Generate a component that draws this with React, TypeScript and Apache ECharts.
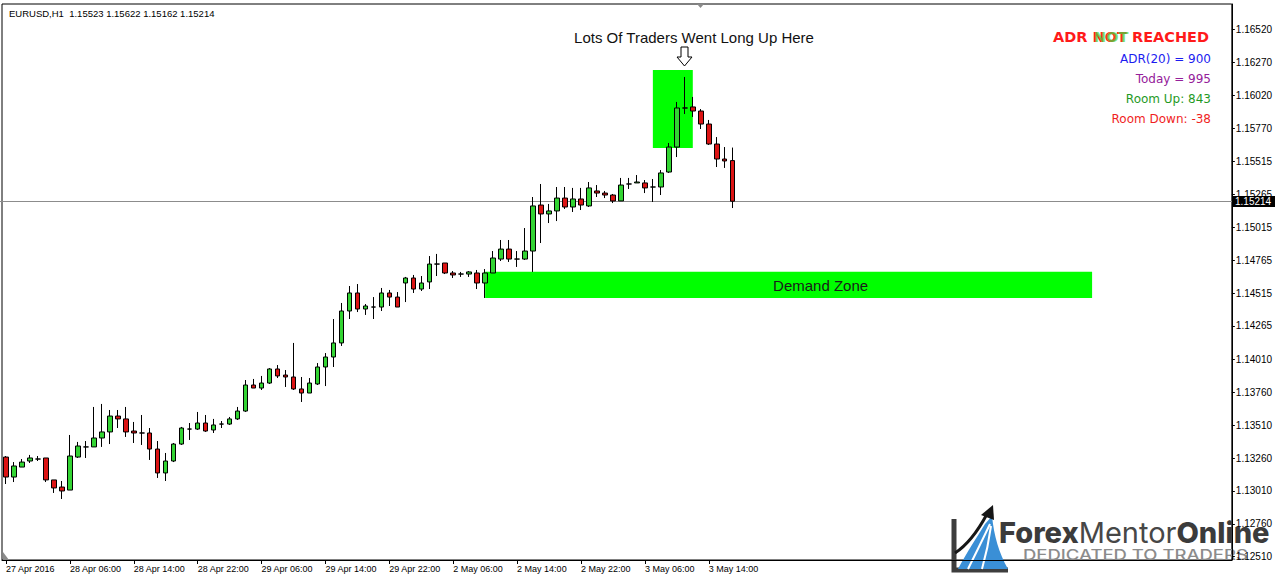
import React, { useEffect, useRef } from "react";
import * as echarts from "echarts";

// ---------- data ----------
const symbolHeader = "EURUSD,H1  1.15523 1.15622 1.15162 1.15214";

const sessionDays: [string, number, number][] = [
  ["27 Apr", 22, 23],
  ["28 Apr", 0, 23],
  ["29 Apr", 0, 23],
  ["2 May", 0, 23],
  ["3 May", 0, 17],
];
const futureDays: [string, number, number][] = [
  ["3 May", 18, 23],
  ["4 May", 0, 23],
  ["5 May", 0, 23],
  ["6 May", 0, 7],
];

// [open, close, low, high]
const ohlc: number[][] = [
  [1.13268, 1.13116, 1.13063, 1.13276],
  [1.13116, 1.132, 1.13078, 1.1323],
  [1.13192, 1.1323, 1.13192, 1.13253],
  [1.13238, 1.13261, 1.13223, 1.13284],
  [1.13253, 1.13253, 1.13238, 1.13276],
  [1.13261, 1.13094, 1.13078, 1.13261],
  [1.13094, 1.13033, 1.12995, 1.13094],
  [1.1304, 1.1301, 1.12949, 1.13086],
  [1.13017, 1.13276, 1.13017, 1.13436],
  [1.13268, 1.13352, 1.13261, 1.13383],
  [1.13345, 1.13345, 1.13261, 1.1339],
  [1.13345, 1.13413, 1.13345, 1.13649],
  [1.13413, 1.13459, 1.13345, 1.13672],
  [1.13459, 1.1358, 1.13367, 1.13626],
  [1.1358, 1.13558, 1.13489, 1.13626],
  [1.13558, 1.13459, 1.13421, 1.13649],
  [1.13466, 1.13451, 1.13375, 1.13535],
  [1.13451, 1.13451, 1.1336, 1.13588],
  [1.13451, 1.13329, 1.13246, 1.13489],
  [1.13329, 1.13147, 1.13109, 1.1339],
  [1.13147, 1.13238, 1.13086, 1.13299],
  [1.13238, 1.13367, 1.1323, 1.13375],
  [1.13367, 1.13489, 1.1336, 1.13497],
  [1.13481, 1.13481, 1.13398, 1.13527],
  [1.13481, 1.13527, 1.13474, 1.13611],
  [1.13527, 1.13466, 1.13459, 1.13588],
  [1.13474, 1.13512, 1.13451, 1.13558],
  [1.13519, 1.13519, 1.13489, 1.13542],
  [1.13519, 1.13558, 1.13512, 1.13573],
  [1.13558, 1.13618, 1.1355, 1.13649],
  [1.13618, 1.13816, 1.13611, 1.13854],
  [1.13816, 1.13793, 1.13793, 1.13862],
  [1.13793, 1.13831, 1.13778, 1.13885],
  [1.13831, 1.13938, 1.13824, 1.13945],
  [1.13938, 1.13885, 1.13869, 1.13968],
  [1.13892, 1.13877, 1.13801, 1.1393],
  [1.13877, 1.13786, 1.13778, 1.14136],
  [1.13786, 1.13755, 1.13687, 1.13877],
  [1.13755, 1.13831, 1.13755, 1.13869],
  [1.13824, 1.13953, 1.13816, 1.13983],
  [1.13953, 1.14029, 1.13808, 1.14059],
  [1.14029, 1.14136, 1.13953, 1.14318],
  [1.14136, 1.14379, 1.14113, 1.1444],
  [1.14379, 1.14516, 1.14318, 1.14569],
  [1.14516, 1.14394, 1.14371, 1.14584],
  [1.14394, 1.14417, 1.14349, 1.14432],
  [1.14409, 1.14409, 1.14318, 1.14485],
  [1.14409, 1.14516, 1.14379, 1.14554],
  [1.14516, 1.14485, 1.14417, 1.14539],
  [1.14485, 1.14409, 1.14409, 1.14523],
  [1.14592, 1.1463, 1.14447, 1.14638],
  [1.1463, 1.14546, 1.14516, 1.14653],
  [1.14546, 1.14592, 1.14531, 1.14645],
  [1.146, 1.14736, 1.14546, 1.14797],
  [1.14736, 1.14736, 1.14645, 1.14813],
  [1.14744, 1.14668, 1.1466, 1.14744],
  [1.14668, 1.14653, 1.1463, 1.14683],
  [1.1466, 1.1466, 1.14638, 1.14676],
  [1.1466, 1.14676, 1.14638, 1.14683],
  [1.14668, 1.14592, 1.14546, 1.14691],
  [1.14592, 1.14668, 1.14478, 1.14698],
  [1.14668, 1.14782, 1.14668, 1.14835],
  [1.14774, 1.1485, 1.14759, 1.14919],
  [1.1485, 1.14774, 1.14752, 1.14919],
  [1.14774, 1.14774, 1.14714, 1.14835],
  [1.14774, 1.14835, 1.14767, 1.1501],
  [1.14835, 1.15178, 1.14676, 1.15246],
  [1.15185, 1.15117, 1.14896, 1.15345],
  [1.15117, 1.1514, 1.15048, 1.15193],
  [1.1514, 1.15238, 1.15063, 1.15322],
  [1.15238, 1.1517, 1.15155, 1.15322],
  [1.1517, 1.15231, 1.15132, 1.15315],
  [1.15231, 1.15185, 1.15147, 1.15315],
  [1.15178, 1.15315, 1.1517, 1.1536],
  [1.15292, 1.15276, 1.15246, 1.15337],
  [1.15276, 1.15261, 1.15238, 1.15292],
  [1.15261, 1.15216, 1.152, 1.15269],
  [1.15216, 1.15337, 1.15216, 1.15391],
  [1.15345, 1.15345, 1.15307, 1.15391],
  [1.15353, 1.1536, 1.15353, 1.15413],
  [1.15353, 1.15315, 1.15276, 1.15375],
  [1.15322, 1.15322, 1.15208, 1.15383],
  [1.15322, 1.15429, 1.15261, 1.15451],
  [1.15436, 1.15626, 1.15429, 1.15657],
  [1.15626, 1.15923, 1.1555, 1.15969],
  [1.15923, 1.15923, 1.15877, 1.16159],
  [1.15931, 1.159, 1.15855, 1.16007],
  [1.159, 1.15801, 1.15763, 1.15915],
  [1.15801, 1.15649, 1.15642, 1.15832],
  [1.15649, 1.15535, 1.15474, 1.15702],
  [1.15535, 1.1552, 1.15467, 1.15626],
  [1.15523, 1.15214, 1.15162, 1.15622],
];

const xTickLabels = [
  "27 Apr 2016", "28 Apr 06:00", "28 Apr 14:00", "28 Apr 22:00", "29 Apr 06:00", "29 Apr 14:00",
  "29 Apr 22:00", "2 May 06:00", "2 May 14:00", "2 May 22:00", "3 May 06:00", "3 May 14:00",
];
const xTickEvery = 8;

const yTicks = [
  1.1652, 1.1627, 1.1602, 1.1577, 1.15515, 1.15265, 1.15015, 1.14765, 1.14515,
  1.14265, 1.1401, 1.1376, 1.1351, 1.1326, 1.1301, 1.1276, 1.1251,
];
const yMin = 1.12485;
const yMax = 1.16714;

const lastClose = 1.15214;

// zones: [fromCandleIndex, toCandleIndex, top price, bottom price]
const longZone = [81, 86, 1.16212, 1.15618];
const demandZone = [60, 136, 1.14677, 1.14478];

const adrLines = [
  { text: "ADR(20) = 900", color: "#1c1cf0" },
  { text: "Today = 995", color: "#95209a" },
  { text: "Room Up: 843", color: "#1f9a1f" },
  { text: "Room Down: -38", color: "#f01e1e" },
];

// ---------- helpers ----------
const pad = (n: number) => (n < 10 ? "0" + n : "" + n);
function buildCats(days: [string, number, number][]) {
  const out: string[] = [];
  days.forEach(([d, a, b]) => {
    for (let h = a; h <= b; h++) out.push(d + " " + pad(h) + ":00");
  });
  return out;
}
const realCats = buildCats(sessionDays);
const categories = realCats.concat(buildCats(futureDays));

try {
  echarts.graphic.registerShape(
    "fmoBlue",
    echarts.graphic.extendPath(
      "M958 569 C967 552 977 537 985 524 L992 516 C994 536 999 553 1008 569 Z",
      {}
    )
  );
} catch (e) {}

export default function App() {
  const ref = useRef<HTMLDivElement>(null);
  useEffect(() => {
    if (!ref.current) return;
    const chart = echarts.init(ref.current, null, { renderer: "svg" });
    const font = "Liberation Sans";
    const baseGraphic: any[] = [
      {
        type: "text",
        left: 9,
        top: 8,
        style: { text: symbolHeader, fontSize: 9.5, fill: "#000", fontFamily: font },
      },
      {
        type: "polygon",
        shape: { points: [[697, 4], [704, 4], [700.5, 8]] },
        style: { fill: "#8a8a8a" },
      },
      {
        type: "polygon",
        shape: { points: [[3, 552], [3, 560], [9, 560]] },
        style: { fill: "#8a8a8a" },
      },
      {
        type: "text",
        x: 694,
        y: 37,
        style: {
          text: "Lots Of Traders Went Long Up Here",
          fontSize: 15,
          fill: "#111",
          fontFamily: font,
          align: "center",
          verticalAlign: "middle",
        },
      },
      {
        type: "polygon",
        shape: {
          points: [
            [681, 47], [688, 47], [688, 57], [692, 57], [684.5, 66], [677, 57], [681, 57],
          ],
        },
        style: { fill: "#fff", stroke: "#000", lineWidth: 1 },
      },
      {
        type: "text",
        x: 1209,
        y: 37,
        style: {
          text: "ADR NOT REACHED",
          fontSize: 14.5,
          fontWeight: "bold",
          fill: "#ff1a1a",
          fontFamily: "DejaVu Sans",
          align: "right",
          verticalAlign: "middle",
        },
      },
      {
        type: "text",
        x: 1094,
        y: 37,
        style: {
          text: "NOT",
          fontSize: 14.5,
          fontWeight: "bold",
          fill: "#3ee03e",
          fontFamily: "DejaVu Sans",
          align: "left",
          verticalAlign: "middle",
          opacity: 0.7,
        },
      },
      ...adrLines.map((l, i) => ({
        type: "text",
        x: 1211,
        y: 59 + i * 20,
        style: {
          text: l.text,
          fontSize: 12,
          fill: l.color,
          fontFamily: "DejaVu Sans",
          align: "right",
          verticalAlign: "middle",
        },
      })),
      // logo
      {
        type: "polyline",
        shape: { points: [[954, 519], [954, 570], [1008, 570]] },
        style: { stroke: "#3d3d3d", lineWidth: 5, fill: null },
      },
      { type: "fmoBlue", x: 0, y: 0, style: { fill: "#3a8fd6" } },
      {
        type: "bezierCurve",
        shape: { x1: 968, y1: 569, cpx1: 980, cpy1: 545, x2: 990, y2: 524 },
        style: { stroke: "#fff", lineWidth: 2, fill: null },
      },
      {
        type: "bezierCurve",
        shape: { x1: 982, y1: 569, cpx1: 988, cpy1: 548, x2: 991, y2: 526 },
        style: { stroke: "#fff", lineWidth: 2, fill: null },
      },
      {
        type: "bezierCurve",
        shape: { x1: 955, y1: 553, cpx1: 972, cpy1: 542, x2: 987, y2: 514 },
        style: { stroke: "#161616", lineWidth: 3, fill: null },
      },
      {
        type: "polygon",
        shape: { points: [[981, 515], [993, 505], [994, 520]] },
        style: { fill: "#161616" },
      },
      {
        type: "text",
        x: 999,
        y: 532,
        style: {
          text: "{b|Forex}{r|Mentor}{b|Online}",
          verticalAlign: "middle",
          rich: {
            b: { fontSize: 29, fontWeight: 800, fill: "#3b3b3b", fontFamily: "Inter" },
            r: { fontSize: 29, fontWeight: 400, fill: "#474747", fontFamily: "Inter" },
          },
        },
      },
      {
        type: "text",
        x: 1023,
        y: 555,
        scaleX: 1.32,
        style: {
          text: "DEDICATED TO TRADERS",
          fontSize: 14,
          fontWeight: 500,
          fill: "#8c8c8c",
          fontFamily: "Inter",
          verticalAlign: "middle",
        },
      },
    ];

    const option: any = {
      animation: false,
      backgroundColor: "#ffffff",
      textStyle: { fontFamily: font },
      grid: {
        left: 2,
        right: 43,
        top: 4,
        bottom: 18,
        show: true,
        borderColor: "#000",
        borderWidth: 1,
      },
      xAxis: {
        type: "category",
        data: categories,
        boundaryGap: true,
        axisLine: { show: true, lineStyle: { color: "#000", width: 1 } },
        axisTick: {
          show: true,
          alignWithLabel: true,
          length: 4,
          interval: (i: number) => i % xTickEvery === 0 && i < realCats.length,
          lineStyle: { color: "#000" },
        },
        axisLabel: {
          interval: (i: number) => i % xTickEvery === 0 && i < realCats.length,
          formatter: (_v: string, i: number) => xTickLabels[i / xTickEvery] || "",
          align: "left",
          fontSize: 9,
          color: "#000",
          margin: 4,
          fontFamily: font,
        },
        splitLine: { show: false },
      },
      yAxis: {
        type: "value",
        position: "right",
        min: yMin,
        max: yMax,
        scale: true,
        axisLine: { show: true, lineStyle: { color: "#000", width: 1 } },
        axisTick: {
          show: true,
          length: 3,
          customValues: yTicks,
          lineStyle: { color: "#000" },
        },
        axisLabel: {
          customValues: yTicks,
          formatter: (v: number) => v.toFixed(5),
          fontSize: 10,
          color: "#000",
          margin: 4,
          fontFamily: font,
        },
        splitLine: { show: false },
      },
      series: [
        {
          type: "candlestick",
          data: ohlc,
          barWidth: 5,
          itemStyle: {
            color: "#33d433",
            color0: "#dc1414",
            borderColor: "#000",
            borderColor0: "#000",
            borderColorDoji: "#000",
            borderWidth: 1,
          },
          markArea: {
            silent: true,
            itemStyle: { color: "#00ff00", opacity: 1 },
            data: [
              [
                { xAxis: categories[longZone[0]], yAxis: longZone[2] },
                { xAxis: categories[longZone[1]], yAxis: longZone[3] },
              ],
              [
                {
                  xAxis: categories[demandZone[0]],
                  yAxis: demandZone[2],
                  name: "Demand Zone",
                  label: {
                    show: true,
                    position: "inside",
                    formatter: "Demand Zone",
                    color: "#1a1a1a",
                    fontSize: 15,
                    offset: [32, 1],
                    fontFamily: font,
                  },
                },
                { xAxis: categories[demandZone[1]], yAxis: demandZone[3] },
              ],
            ],
            label: { show: false },
          },
        },
      ],
      graphic: baseGraphic,
    };
    chart.setOption(option);

    // current price line, positioned through the y axis scale
    const py = Math.round(chart.convertToPixel({ yAxisIndex: 0 }, lastClose) as number) + 0.5;
    const priceGraphic = [
      {
        type: "line",
        z: 1,
        shape: { x1: 0, y1: py, x2: 1232, y2: py },
        style: { stroke: "#8c8c8c", lineWidth: 1 },
      },
      {
        type: "rect",
        z: 10,
        shape: { x: 1232, y: py - 5.5, width: 43, height: 11 },
        style: { fill: "#000" },
      },
      {
        type: "text",
        z: 11,
        x: 1235,
        y: py,
        style: {
          text: lastClose.toFixed(5),
          fontSize: 10,
          fill: "#fff",
          fontFamily: font,
          verticalAlign: "middle",
        },
      },
    ];
    option.graphic = baseGraphic.concat(priceGraphic);
    chart.setOption(option, true);
    return () => chart.dispose();
  }, []);
  return (
    <div
      ref={ref}
      style={{ position: "absolute", left: 0, top: 0, width: 1275, height: 578 }}
    />
  );
}
